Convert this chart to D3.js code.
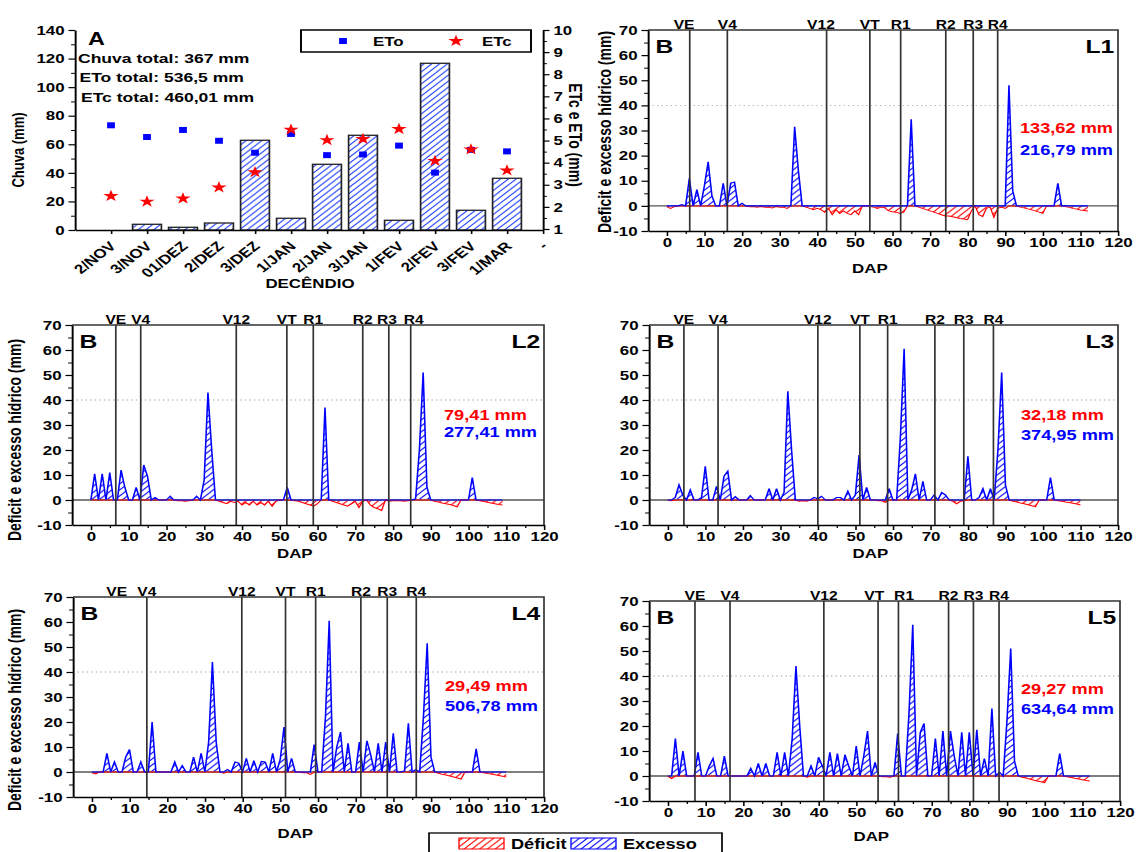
<!DOCTYPE html>
<html lang="pt">
<head>
<meta charset="utf-8">
<title>Balanço hídrico</title>
<script src="https://cdn.jsdelivr.net/npm/d3@7"></script>
<style>
    body { margin: 0; background: #fff; }
    svg { display: block; }
    text { font-family: 'Liberation Sans', Arial, sans-serif; font-weight: bold; }
</style>
</head>
<body>
<svg id="chart"></svg>
<script>
const W = 1138
const H = 852
const SX = 1.3 // the source figure is stretched sideways, so the viewBox is squeezed by the same factor
const px = v => v / SX
const FONT = "'Liberation Sans', Arial, sans-serif"

// panel A (decendial rain and evapotranspiration)
const decendios = ['2/NOV', '3/NOV', '01/DEZ', '2/DEZ', '3/DEZ', '1/JAN', '2/JAN', '3/JAN', '1/FEV', '2/FEV', '3/FEV', '1/MAR']
const chuva = [0, 4.0, 1.9, 4.9, 62.8, 8.2, 46.0, 66.3, 6.8, 116.7, 13.8, 36.2]
const eto = [5.69, 5.16, 5.48, 4.99, 4.45, 5.30, 4.34, 4.37, 4.77, 3.55, 4.58, 4.51]
const etc = [2.49, 2.24, 2.38, 2.88, 3.57, 5.49, 5.02, 5.07, 5.52, 4.08, 4.60, 3.65]
const totaisA = ['Chuva total: 367 mm', 'ETo total: 536,5 mm', 'ETc total: 460,01 mm']
const tickLabelsA = decendios.concat(['-'])

// panels B: daily water balance (mm) by DAP, index = DAP, negative = deficit, positive = excess
const l1 = [
    -0.3, -1, -0.3, 0, 0.5, 0, 11, 0, 6.5, 0,
    8, 17.5, 4, 0, 0, 9, 0, 9, 9.5, 0,
    1, 0, -0.3, -0.3, -0.5, -0.3, -0.5, -0.5, -0.8, -0.3,
    -0.5, -0.5, -1, 0, 31.5, 14, 0, -0.5, -1, -1.5,
    -1, -1.5, -2.5, -1, -3.5, -1.5, -3, -2, -3, -3.5,
    -2, -3.5, 0, 0, -0.3, -0.5, -1, -0.5, -0.8, -2,
    -2.3, -2.5, -3, -2.5, 0, 34.5, 0, -0.5, -1, -1.5,
    -2, -2.5, -3, -3.5, -4, -4, -4.3, -4.6, -5, -5.2,
    -5.5, -2, 0, -3.5, -4.2, -1, -0.5, -4.5, -1, -0.5,
    -1, 48, 6, 0, -0.5, -0.8, -1.2, -1.6, -2, -2.5,
    -3, 0, 0, 0, 9, 0, -0.3, -0.6, -1, -1.3,
    -1.6, -1.8, -2
]
const l2 = [
    0, 10.5, 0, 10.5, 0, 11, 0, 0, 12, 5,
    0, 0, 5, 0, 14, 9.5, 0, 1, 0, 0,
    0, 1.5, 0, -0.3, -0.3, -0.5, -0.3, 0, 1.5, 0,
    8, 43, 20, 0, -0.5, -1, -1.5, -0.5, -1, -0.5,
    -2, -1, -2, -0.5, -2, -1, -2, -0.5, -2.5, -0.5,
    0, 0, 5, 0, -0.3, -0.5, -1, -1.5, -2, -2.5,
    -1.5, 0, 37, 0, -0.5, -1, -1.5, -2, -2.5, -1.5,
    -0.5, -3, -0.5, 0, -2, -3, -3.5, -4.2, 0, -0.5,
    -0.3, -0.3, -0.3, -0.5, -0.3, 0, 0.5, 20, 51, 5,
    0, -0.5, -0.8, -1.2, -1.5, -1.8, -2.2, -2.7, 0, 0,
    0, 9, 0, -0.3, -0.6, -0.9, -1.2, -1.5, -1.8, -2
]
const l3 = [
    0, -0.3, 1, 6, 2, 0, 4, 0, 0, 1,
    13.5, 0, 0, 5.5, 0, 9.5, 11.5, 0, 1.3, 0,
    0, 0, 1.8, 0, 0, 0, 0, 4.5, 0, 4.5,
    0, 3, 43.5, 20, 0, -0.5, -0.3, -0.5, 0, 1,
    0.5, 1.5, 0, 0, 0, 1, 1, 0, 3.5, 0,
    2, 18, 0, 5, 0, 0, -0.3, -0.3, -1, 4.5,
    0, 0, 25, 60.5, 0, 4, 10.5, 0, 7.5, 0,
    0, 2, 0, 3, 2, 0, -0.5, -1.5, -0.5, -0.3,
    17.5, 0, 0, 1, 4.5, 0, 4.5, 0, 20, 51,
    6, 0, -0.5, -0.8, -1.2, -1.5, -1.9, -2.3, -2.7, 0,
    0, 0, 9, 0, -0.3, -0.5, -0.8, -1, -1.3, -1.6,
    -2
]
const l4 = [
    -0.3, -0.8, 0, 0, 7.5, 0, 4, 0, 0, 6,
    9, 0, 0, 4, 0, 0, 20, 0, 0, 0,
    0, 0, 4, 0, 2.5, 0, 0, 6, 0, 7.5,
    0, 12, 44, 12, 0, -0.5, 1, 0, 4, 3.5,
    0, 5.5, 0, 4.5, 0, 4.2, 4, 0, 7.5, 0,
    5, 18, 0, 5.5, 0, 0, -0.3, -0.3, -1, 11,
    0, 0, 22, 60.5, 0, 10, 16, 0, 11.5, 0,
    0, 12, 0, 12.5, 7, 0, 11.5, 0, 12, 0,
    15.5, 0, 0, 0.5, 19.5, 0, 1, 0, 22, 51.5,
    6, 0, -0.5, -0.9, -1.2, -1.6, -2, -2.4, -2.8, 0,
    0, 0, 9.3, 0, -0.3, -0.6, -0.8, -1.1, -1.4, -1.7,
    -2
]
const l5 = [
    0, -1, 15, 0, 10, 0, 0, 0, 9.5, 0,
    0, 4, 7, 0, 0, 8, 0, 0, 0, 0,
    0, 0, 3, 0, 5, 0, 5, 0, 0, 9.5,
    0, 9.5, 0, 15, 44, 20, 0, -0.5, 4, 0,
    7.5, 4, 0, 9.5, 0, 9, 0, 8.5, 4, 0,
    12, 0, 8, 18, 0, 5.5, 0, -0.3, -0.3, -0.5,
    0, 17, 0, 0, 25, 60.5, 0, 17.5, 21, 0,
    0, 15, 0, 18, 0, 18, 8, 0, 17.5, 0,
    17.5, 0, 18.5, 0, 7, 0, 27, 0, 1.5, 0,
    22, 51, 6, 0, -0.5, -0.8, -1.2, -1.6, -2, -2.3,
    -2.7, 0, 0, 0, 9, 0, -0.3, -0.6, -0.9, -1.2,
    -1.5, -1.8, -2
]

// phenological stages (DAP) for each treatment
const phases = ['VE', 'V4', 'V12', 'VT', 'R1', 'R2', 'R3', 'R4']
const phasesL1 = [6.1, 16.1, 42.5, 54, 62.2, 74.2, 81.5, 88]
const phasesL2 = [6.6, 13.2, 38.5, 51.9, 58.9, 72, 78.9, 84.7]
const phasesL3 = [4.3, 13.4, 40, 51.2, 58.6, 71.2, 78.9, 86.8]
const phasesL4 = [6.6, 14.6, 39.8, 51.4, 59.4, 71.4, 78.4, 86.1]
const phasesL5 = [7.2, 16.5, 41.4, 55.8, 61.2, 74.5, 81.1, 87.9]

const deficitTotals = ['133,62 mm', '79,41 mm', '32,18 mm', '29,49 mm', '29,27 mm']
const excessTotals = ['216,79 mm', '277,41 mm', '374,95 mm', '506,78 mm', '634,64 mm']

const panels = [
    { id: 'L1', values: l1, phases: phasesL1, left: 648, right: 1118, top: 30, bottom: 231, yLabel: 611, yLabelMid: 132, dapY: 273, totY: [133, 155], shift: { VE: -1.5, V12: -1.5 } },
    { id: 'L2', values: l2, phases: phasesL2, left: 72, right: 544, top: 325, bottom: 525, yLabel: 21, yLabelMid: 440, dapY: 558, totY: [420, 437], shift: { R3: -0.5, R4: 0.8 } },
    { id: 'L3', values: l3, phases: phasesL3, left: 649, right: 1118, top: 325, bottom: 525, yLabel: null, dapY: 558, totY: [420, 440], shift: {} },
    { id: 'L4', values: l4, phases: phasesL4, left: 73, right: 544, top: 597, bottom: 797, yLabel: 21, yLabelMid: 710, dapY: 838, totY: [691, 711], noLine: ['VE'], shift: {} },
    { id: 'L5', values: l5, phases: phasesL5, left: 649, right: 1120, top: 601, bottom: 801, yLabel: null, dapY: 841, totY: [694, 714], shift: { VT: -1, R1: 1.5 } }
]

const svg = d3.select('#chart')
    .attr('width', W)
    .attr('height', H)
    .attr('viewBox', `0 0 ${px(W)} ${H}`)
    .attr('preserveAspectRatio', 'none')

const defs = svg.append('defs')
const hatch = (id, color, size, width, bg) => {
    const p = defs.append('pattern')
        .attr('id', id)
        .attr('patternUnits', 'userSpaceOnUse')
        .attr('width', size)
        .attr('height', size)
    if (bg) p.append('rect').attr('width', size).attr('height', size).attr('fill', bg)
    p.append('path')
        .attr('d', `M${-size / 4},${size / 4} l${size / 2},${-size / 2} M0,${size} l${size},${-size} M${size * 3 / 4},${size * 5 / 4} l${size / 2},${-size / 2}`)
        .attr('stroke', color)
        .attr('stroke-width', width)
}
hatch('hatchBlue', '#0000ff', 6, 0.9)
hatch('hatchRed', '#ff0000', 6, 0.9)
hatch('hatchBar', '#1f3fff', 6, 0.9, '#fff')

const styleAxis = g => g
    .attr('font-size', 13)
    .attr('font-family', FONT)
    .attr('font-weight', 'bold')
    .call(a => a.select('.domain').attr('stroke', '#000').attr('stroke-width', 1.5))
    .call(a => a.selectAll('.tick line').attr('stroke', '#000').attr('stroke-width', 1.2))
    .call(a => a.selectAll('.tick text').attr('fill', '#000'))

const minorAxis = (g, axis) => g
    .call(axis.tickFormat(''))
    .call(a => a.select('.domain').remove())
    .call(a => a.selectAll('.tick line').attr('stroke', '#000').attr('stroke-width', 1))

const label = (x, y, txt, size, opts = {}) => svg.append('text')
    .attr('x', x)
    .attr('y', y)
    .attr('font-size', size)
    .attr('fill', opts.fill || '#000')
    .attr('text-anchor', opts.anchor || 'start')
    .text(txt)

function drawWater () {
    const box = { left: 75, right: 543, top: 30, bottom: 230 }
    const x = d3.scaleLinear().domain([0, 13]).range([px(box.left), px(box.right)])
    const yRain = d3.scaleLinear().domain([0, 140]).range([box.bottom, box.top])
    const yEt = d3.scaleLinear().domain([1, 10]).range([box.bottom - 1, box.top])
    const bw = (x(1) - x(0)) * 0.8

    svg.append('g').selectAll('rect')
        .data(chuva)
        .enter()
        .append('rect')
        .attr('x', (d, i) => x(i + 1) - bw / 2)
        .attr('y', d => yRain(d))
        .attr('width', bw)
        .attr('height', d => yRain(0) - yRain(d))
        .attr('fill', 'url(#hatchBar)')
        .attr('stroke', '#222')
        .attr('stroke-width', 1.3)

    svg.append('g').selectAll('path')
        .data(eto)
        .enter()
        .append('path')
        .attr('d', d3.symbol().type(d3.symbolSquare).size(36))
        .attr('transform', (d, i) => `translate(${x(i + 1)},${yEt(d)})`)
        .attr('fill', '#0000ff')

    svg.append('g').selectAll('path')
        .data(etc)
        .enter()
        .append('path')
        .attr('d', d3.symbol().type(d3.symbolStar).size(44))
        .attr('transform', (d, i) => `translate(${x(i + 1)},${yEt(d)})`)
        .attr('fill', '#ff0000')

    svg.append('g')
        .attr('transform', `translate(${px(box.left)},0)`)
        .call(d3.axisLeft(yRain).tickValues(d3.range(0, 141, 20)).tickSize(5).tickPadding(3).tickSizeOuter(0))
        .call(styleAxis)
    svg.append('g')
        .attr('transform', `translate(${px(box.left)},0)`)
        .call(g => minorAxis(g, d3.axisLeft(yRain).tickValues(d3.range(10, 140, 20)).tickSize(3)))

    svg.append('g')
        .attr('transform', `translate(${px(box.right)},0)`)
        .call(d3.axisRight(yEt).tickValues(d3.range(1, 11)).tickSize(5).tickPadding(3).tickSizeOuter(0))
        .call(styleAxis)
    svg.append('g')
        .attr('transform', `translate(${px(box.right)},0)`)
        .call(g => minorAxis(g, d3.axisRight(yEt).tickValues(d3.range(1.5, 10, 1)).tickSize(3)))

    svg.append('g')
        .attr('transform', `translate(0,${box.bottom})`)
        .call(d3.axisBottom(x).tickValues(d3.range(1, 14)).tickSize(4).tickSizeOuter(0).tickFormat(i => tickLabelsA[i - 1]))
        .call(styleAxis)
        .selectAll('.tick text')
        .attr('y', 0)
        .attr('dy', 0)
        .attr('transform', 'translate(4,17) rotate(-45)')
        .style('text-anchor', 'end')

    // legend
    svg.append('rect')
        .attr('x', px(301)).attr('y', 30)
        .attr('width', px(230)).attr('height', 22)
        .attr('fill', '#fff').attr('stroke', '#000').attr('stroke-width', 1.5)
    svg.append('path')
        .attr('d', d3.symbol().type(d3.symbolSquare).size(36))
        .attr('transform', `translate(${px(343)},41)`)
        .attr('fill', '#0000ff')
    label(px(373), 46, 'ETo', 13)
    svg.append('path')
        .attr('d', d3.symbol().type(d3.symbolStar).size(44))
        .attr('transform', `translate(${px(456)},41)`)
        .attr('fill', '#ff0000')
    label(px(482), 46, 'ETc', 13)

    label(px(88), 45, 'A', 18)
    totaisA.forEach((t, i) => label(px(78 + i * 1.5), 63 + i * 19.5, t, 13.5))

    svg.append('text')
        .attr('transform', `translate(${px(24)},150) rotate(-90)`)
        .attr('text-anchor', 'middle')
        .attr('font-size', 13)
        .text('Chuva (mm)')
    svg.append('text')
        .attr('transform', `translate(${px(569)},135) rotate(90)`)
        .attr('text-anchor', 'middle')
        .attr('font-size', 14)
        .text('ETc e ETo (mm)')
    label(px(310), 288, 'DECÊNDIO', 13, { anchor: 'middle' })
}

function drawBalance (p, k) {
    const x = d3.scaleLinear().domain([-5, 120]).range([px(p.left), px(p.right)])
    const y = d3.scaleLinear().domain([-10, 70]).range([p.bottom, p.top])
    const g = svg.append('g')

    g.append('line') // dotted reference at 40 mm
        .attr('x1', x(-5)).attr('x2', x(120))
        .attr('y1', y(40)).attr('y2', y(40))
        .attr('stroke', '#999').attr('stroke-width', 0.8).attr('stroke-dasharray', '1,2.5')

    const deficit = p.values.map(v => Math.min(v, 0))
    const excess = p.values.map(v => Math.max(v, 0))
    const area = d3.area().x((d, i) => x(i)).y0(y(0)).y1(d => y(d))
    const line = d3.line().x((d, i) => x(i)).y(d => y(d))

    g.append('path').datum(deficit).attr('d', area).attr('fill', 'url(#hatchRed)')
    g.append('path').datum(excess).attr('d', area).attr('fill', 'url(#hatchBlue)')

    g.append('line') // zero line
        .attr('x1', x(-5)).attr('x2', x(120))
        .attr('y1', y(0)).attr('y2', y(0))
        .attr('stroke', '#555').attr('stroke-width', 1.4)

    g.append('path').datum(deficit).attr('d', line)
        .attr('fill', 'none').attr('stroke', '#ff0000').attr('stroke-width', 1)
    g.append('path').datum(excess).attr('d', line)
        .attr('fill', 'none').attr('stroke', '#0000ff').attr('stroke-width', 1.2)

    const stages = phases.map((name, i) => ({ name, v: p.phases[i] }))
    g.selectAll('.stage')
        .data(stages.filter(d => !(p.noLine || []).includes(d.name)))
        .enter()
        .append('line')
        .attr('x1', d => x(d.v)).attr('x2', d => x(d.v))
        .attr('y1', p.top).attr('y2', p.bottom)
        .attr('stroke', '#333').attr('stroke-width', 1.3)
    g.selectAll('.stageLabel')
        .data(stages)
        .enter()
        .append('text')
        .attr('x', d => x(d.v + (p.shift[d.name] || 0)))
        .attr('y', p.top - 0.5)
        .attr('text-anchor', 'middle')
        .attr('font-size', 12)
        .text(d => d.name)

    // frame
    g.append('path')
        .attr('d', `M${x(-5)},${p.top}H${x(120)}V${p.bottom}`)
        .attr('fill', 'none').attr('stroke', '#333').attr('stroke-width', 1.3)

    g.append('g')
        .attr('transform', `translate(0,${p.bottom})`)
        .call(d3.axisBottom(x).tickValues(d3.range(0, 121, 10)).tickSize(5).tickPadding(2).tickSizeOuter(0).tickFormat(d => String(d)))
        .call(styleAxis)
    g.append('g')
        .attr('transform', `translate(0,${p.bottom})`)
        .call(a => minorAxis(a, d3.axisBottom(x).tickValues(d3.range(5, 120, 10)).tickSize(3)))

    g.append('g')
        .attr('transform', `translate(${x(-5)},0)`)
        .call(d3.axisLeft(y).tickValues(d3.range(-10, 71, 10)).tickSize(5).tickPadding(3).tickSizeOuter(0).tickFormat(d => String(d)))
        .call(styleAxis)
    g.append('g')
        .attr('transform', `translate(${x(-5)},0)`)
        .call(a => minorAxis(a, d3.axisLeft(y).tickValues(d3.range(-5, 70, 10)).tickSize(3)))

    label(x(-3), p.top + 23, 'B', 19)
    label(x(119), p.top + 23, p.id, 19, { anchor: 'end' })
    label(px(p.left + 372), p.totY[0], deficitTotals[k], 14, { fill: '#ff0000' })
    label(px(p.left + 372), p.totY[1], excessTotals[k], 14, { fill: '#0000ff' })
    label(x(54), p.dapY, 'DAP', 13, { anchor: 'middle' })

    if (p.yLabel !== null) {
        svg.append('text')
            .attr('transform', `translate(${px(p.yLabel)},${p.yLabelMid}) rotate(-90)`)
            .attr('text-anchor', 'middle')
            .attr('font-size', 14)
            .text('Deficit e excesso hídrico (mm)')
    }
}

function drawLegend () {
    svg.append('rect')
        .attr('x', px(429)).attr('y', 833)
        .attr('width', px(293)).attr('height', 30)
        .attr('fill', '#fff').attr('stroke', '#000').attr('stroke-width', 1.3)
    const items = [
        { name: 'Déficit', color: '#ff0000', fill: 'url(#hatchRed)', x: 459 },
        { name: 'Excesso', color: '#0000ff', fill: 'url(#hatchBlue)', x: 571 }
    ]
    items.forEach(d => {
        svg.append('rect')
            .attr('x', px(d.x)).attr('y', 838)
            .attr('width', px(45)).attr('height', 11)
            .attr('fill', d.fill).attr('stroke', d.color).attr('stroke-width', 1)
        label(px(d.x + 52), 849, d.name, 14)
    })
}

drawWater()
panels.forEach((p, k) => drawBalance(p, k))
drawLegend()
</script>
</body>
</html>
